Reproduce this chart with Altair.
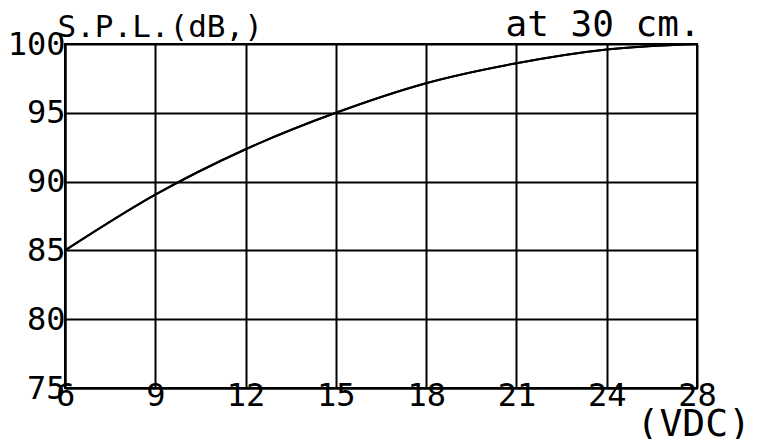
import altair as alt
import pandas as pd

# data
voltage_labels = ["6", "9", "12", "15", "18", "21", "24", "28"]
spl_values = [85.0, 89.05, 92.35, 95.0, 97.15, 98.6, 99.6, 100.0]
y_ticks = [75, 80, 85, 90, 95, 100]

df = pd.DataFrame({
    "pos": list(range(len(voltage_labels))),
    "volt": voltage_labels,
    "spl": spl_values,
})

FONT = "DejaVu Sans Mono"
label_arr = "[" + ",".join("'" + v + "'" for v in voltage_labels) + "]"
x_scale = alt.Scale(domain=[0, len(voltage_labels) - 1], nice=False, zero=False)
y_scale = alt.Scale(domain=[75, 100], nice=False, zero=False)

base = alt.Chart(df).mark_line(
    color="black", strokeWidth=2, interpolate="monotone"
).encode(
    x=alt.X("pos:Q", scale=x_scale,
            axis=alt.Axis(
                values=list(range(len(voltage_labels))),
                labelExpr=label_arr + "[datum.value]",
                title="(VDC)", titleX=571, titleY=47, titleAlign="left",
                titleBaseline="alphabetic", titleFont=FONT, titleFontSize=38,
                titleFontWeight="normal", titleColor="black",
                labelFont=FONT, labelFontSize=32, labelColor="black",
                labelPadding=-8, labelBaseline="top", labelFlush=False,
                labelOverlap=False,
                tickSize=0, domainColor="black", domainWidth=2,
                grid=True, gridColor="black", gridWidth=2, gridOpacity=1,
            )),
    y=alt.Y("spl:Q", scale=y_scale,
            axis=alt.Axis(
                values=y_ticks,
                title="S.P.L.(dB,)", titleAngle=0, titleX=-8, titleY=-8,
                titleAlign="left", titleBaseline="alphabetic", titleFont=FONT,
                titleFontSize=31, titleFontWeight="normal", titleColor="black",
                labelFont=FONT, labelFontSize=32, labelColor="black",
                labelPadding=0, labelBaseline="middle", labelFlush=False,
                labelOverlap=False,
                tickSize=0, domainColor="black", domainWidth=2,
                grid=True, gridColor="black", gridWidth=2, gridOpacity=1,
            )),
)

top = alt.Chart(df).mark_line(
    color="black", strokeWidth=2, interpolate="monotone"
).encode(
    x=alt.X("pos:Q", scale=x_scale,
            axis=alt.Axis(
                orient="top", labels=False, ticks=False, domain=False, grid=False,
                title="at 30 cm.", titleX=440, titleY=-9, titleAlign="left",
                titleBaseline="alphabetic", titleFont=FONT, titleFontSize=36,
                titleFontWeight="normal", titleColor="black",
            )),
    y=alt.Y("spl:Q", scale=y_scale, axis=None),
)

chart = alt.layer(base, top).resolve_axis(
    x="independent", y="independent"
).properties(
    width=632, height=344,
    autosize=alt.AutoSizeParams(type="none"),
    padding={"left": 57, "top": 36, "right": 64, "bottom": 51},
).configure_view(stroke="black", strokeWidth=2)

chart.save("out.html", embed_options={"renderer": "svg", "actions": False})
